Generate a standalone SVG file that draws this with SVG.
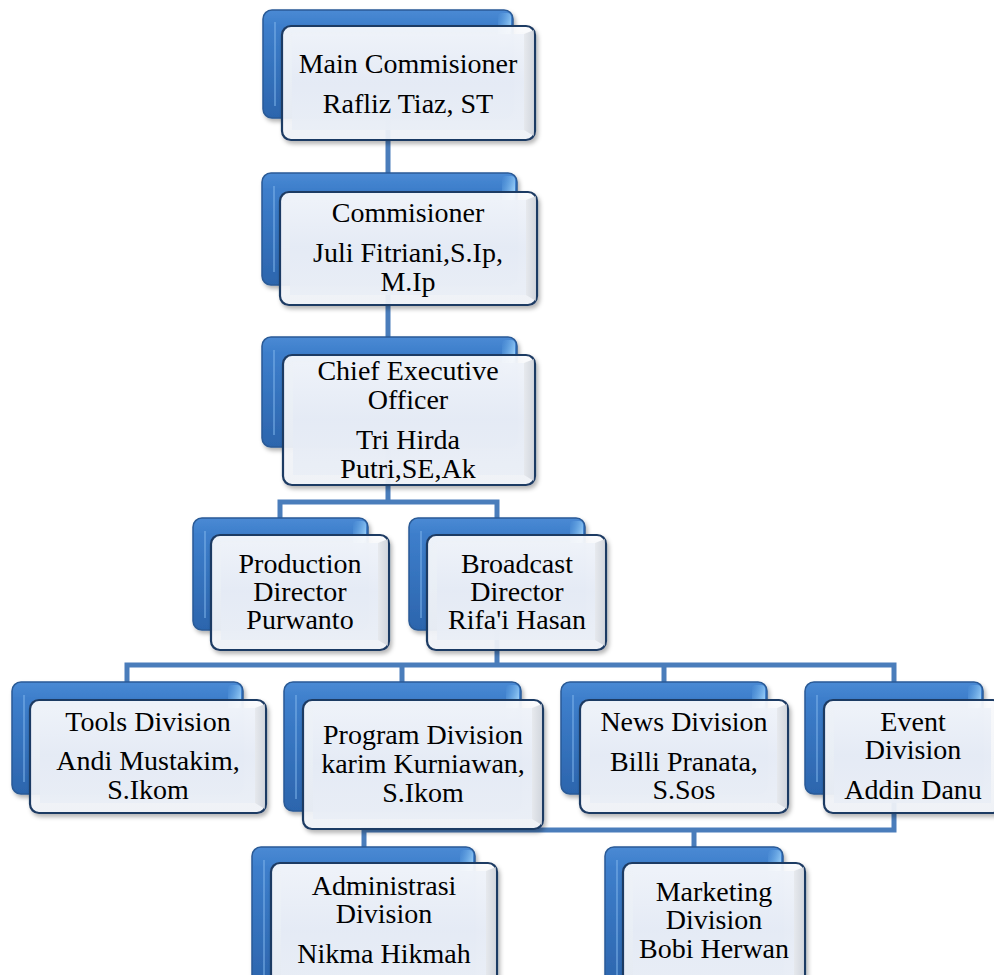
<svg xmlns="http://www.w3.org/2000/svg" width="994" height="975" viewBox="0 0 994 975">
<defs>
<linearGradient id="gBlue" x1="0" y1="0" x2="0" y2="1">
<stop offset="0" stop-color="#4a8ad4"/>
<stop offset="0.15" stop-color="#3d7ecb"/>
<stop offset="1" stop-color="#2c65ad"/>
</linearGradient>
<linearGradient id="gHl" x1="0" y1="0" x2="1" y2="1">
<stop offset="0" stop-color="#6fb4ee" stop-opacity="0"/>
<stop offset="0.7" stop-color="#a9dcff" stop-opacity="0.85"/>
<stop offset="1" stop-color="#6fb4ee" stop-opacity="0"/>
</linearGradient>
<linearGradient id="gFront" x1="0" y1="0" x2="0" y2="1">
<stop offset="0" stop-color="#fbfcfe"/>
<stop offset="1" stop-color="#f1f4f9"/>
</linearGradient>
<linearGradient id="gInner" x1="0" y1="0" x2="0" y2="1">
<stop offset="0" stop-color="#eef2f9"/>
<stop offset="0.5" stop-color="#e4eaf5"/>
<stop offset="1" stop-color="#e9eef6"/>
</linearGradient>
<linearGradient id="gRight" x1="0" y1="0" x2="1" y2="0">
<stop offset="0" stop-color="#e3e6eb"/>
<stop offset="1" stop-color="#c9ced6"/>
</linearGradient>
<filter id="sh" x="-10%" y="-10%" width="125%" height="130%">
<feDropShadow dx="2" dy="3" stdDeviation="2" flood-color="#000" flood-opacity="0.3"/>
</filter>
</defs>
<style>
.back{fill:url(#gBlue);stroke:#2a5a96;stroke-width:1.5;filter:url(#sh)}
.hl{fill:url(#gHl)}
.bev{fill:none;stroke:#7fb3ea;stroke-width:1.5;opacity:0.7}
.front{fill:url(#gFront);fill-opacity:0.92;stroke:#1f3b63;stroke-width:2.2;filter:url(#sh)}
.inner{fill:url(#gInner);fill-opacity:0.88}
.rbev{fill:url(#gRight);opacity:0.8}
.t{font-family:"Liberation Serif","Times New Roman",serif;font-size:28px;fill:#000;text-anchor:middle}
.conn{fill:none;stroke:#4a7dbb;stroke-width:5;stroke-linejoin:miter}
</style>
<rect width="994" height="975" fill="#ffffff"/>

<g id="connectors">
<path class="conn" d="M388,100 V173"/>
<path class="conn" d="M388,270 V337"/>
<path class="conn" d="M388,440 V502 M280,518 V502 H497 V518"/>
<path class="conn" d="M497,600 V665 M127,682 V665 H894 V682 M402,665 V682 M664,665 V682"/>
<path class="conn" d="M894,794 V830 H364 V847 M694,830 V847"/>
</g>

<g id="n-main">
<rect class="back" x="263" y="10" width="250" height="108" rx="9"/>
<path class="bev" d="M275,22 V106"/>
<rect class="hl" x="498" y="13" width="13" height="34" rx="4"/>
<rect class="front" x="282" y="26" width="253" height="114" rx="9"/>
<rect class="inner" x="292" y="34" width="232" height="96"/>
<path class="rbev" d="M524,34 L534,30 V136 L524,130 Z"/>
<text class="t" x="408" y="73">Main Commisioner</text>
<text class="t" x="408" y="113">Rafliz Tiaz, ST</text>
</g>

<g id="n-comm">
<rect class="back" x="262" y="173" width="255" height="112" rx="9"/>
<path class="bev" d="M274,186 V272"/>
<rect class="hl" x="502" y="176" width="13" height="34" rx="4"/>
<rect class="front" x="280" y="192" width="257" height="113" rx="9"/>
<rect class="inner" x="290" y="200" width="236" height="95"/>
<path class="rbev" d="M526,200 L536,196 V301 L526,295 Z"/>
<text class="t" x="408" y="222">Commisioner</text>
<text class="t" x="408" y="262">Juli Fitriani,S.Ip,</text>
<text class="t" x="408" y="291">M.Ip</text>
</g>

<g id="n-ceo">
<rect class="back" x="262" y="337" width="255" height="110" rx="9"/>
<path class="bev" d="M274,350 V435"/>
<rect class="hl" x="502" y="340" width="13" height="34" rx="4"/>
<rect class="front" x="283" y="355" width="252" height="130" rx="9"/>
<rect class="inner" x="293" y="363" width="231" height="112"/>
<path class="rbev" d="M524,363 L534,359 V481 L524,475 Z"/>
<text class="t" x="408" y="380">Chief Executive</text>
<text class="t" x="408" y="409">Officer</text>
<text class="t" x="408" y="449">Tri Hirda</text>
<text class="t" x="408" y="478">Putri,SE,Ak</text>
</g>

<g id="n-prod">
<rect class="back" x="193" y="518" width="175" height="112" rx="9"/>
<path class="bev" d="M205,531 V618"/>
<rect class="hl" x="353" y="521" width="13" height="34" rx="4"/>
<rect class="front" x="211" y="535" width="178" height="115" rx="9"/>
<rect class="inner" x="221" y="543" width="157" height="97"/>
<path class="rbev" d="M378,543 L388,539 V646 L378,640 Z"/>
<text class="t" x="300" y="573">Production</text>
<text class="t" x="300" y="601">Director</text>
<text class="t" x="300" y="629">Purwanto</text>
</g>

<g id="n-broad">
<rect class="back" x="409" y="518" width="176" height="112" rx="9"/>
<path class="bev" d="M421,531 V618"/>
<rect class="hl" x="570" y="521" width="13" height="34" rx="4"/>
<rect class="front" x="427" y="535" width="179" height="115" rx="9"/>
<rect class="inner" x="437" y="543" width="158" height="97"/>
<path class="rbev" d="M595,543 L605,539 V646 L595,640 Z"/>
<text class="t" x="517" y="573">Broadcast</text>
<text class="t" x="517" y="601">Director</text>
<text class="t" x="517" y="629">Rifa'i Hasan</text>
</g>

<g id="n-tools">
<rect class="back" x="12" y="682" width="231" height="112" rx="9"/>
<path class="bev" d="M24,695 V782"/>
<rect class="hl" x="228" y="685" width="13" height="34" rx="4"/>
<rect class="front" x="30" y="700" width="236" height="113" rx="9"/>
<rect class="inner" x="40" y="708" width="215" height="95"/>
<path class="rbev" d="M255,708 L265,704 V809 L255,803 Z"/>
<text class="t" x="148" y="731">Tools Division</text>
<text class="t" x="148" y="770">Andi Mustakim,</text>
<text class="t" x="148" y="799">S.Ikom</text>
</g>

<g id="n-program">
<rect class="back" x="284" y="682" width="237" height="129" rx="9"/>
<path class="bev" d="M296,695 V799"/>
<rect class="hl" x="506" y="685" width="13" height="34" rx="4"/>
<rect class="front" x="303" y="700" width="240" height="129" rx="9"/>
<rect class="inner" x="313" y="708" width="219" height="111"/>
<path class="rbev" d="M532,708 L542,704 V825 L532,819 Z"/>
<text class="t" x="423" y="744">Program Division</text>
<text class="t" x="423" y="773">karim Kurniawan,</text>
<text class="t" x="423" y="802">S.Ikom</text>
</g>

<g id="n-news">
<rect class="back" x="561" y="682" width="206" height="112" rx="9"/>
<path class="bev" d="M573,695 V782"/>
<rect class="hl" x="752" y="685" width="13" height="34" rx="4"/>
<rect class="front" x="580" y="700" width="208" height="113" rx="9"/>
<rect class="inner" x="590" y="708" width="187" height="95"/>
<path class="rbev" d="M777,708 L787,704 V809 L777,803 Z"/>
<text class="t" x="684" y="731">News Division</text>
<text class="t" x="684" y="771">Billi Pranata,</text>
<text class="t" x="684" y="799">S.Sos</text>
</g>

<g id="n-event">
<rect class="back" x="805" y="682" width="178" height="112" rx="9"/>
<path class="bev" d="M817,695 V782"/>
<rect class="hl" x="968" y="685" width="13" height="34" rx="4"/>
<rect class="front" x="824" y="700" width="178" height="113" rx="9"/>
<rect class="inner" x="834" y="708" width="157" height="95"/>
<text class="t" x="913" y="731">Event</text>
<text class="t" x="913" y="759">Division</text>
<text class="t" x="913" y="799">Addin Danu</text>
</g>

<g id="n-admin">
<rect class="back" x="252" y="847" width="223" height="140" rx="9"/>
<path class="bev" d="M264,860 V975"/>
<rect class="hl" x="460" y="850" width="13" height="34" rx="4"/>
<rect class="front" x="271" y="863" width="226" height="140" rx="9"/>
<rect class="inner" x="281" y="871" width="205" height="120"/>
<path class="rbev" d="M486,871 L496,867 V990 L486,990 Z"/>
<text class="t" x="384" y="895">Administrasi</text>
<text class="t" x="384" y="923">Division</text>
<text class="t" x="384" y="963">Nikma Hikmah</text>
</g>

<g id="n-marketing">
<rect class="back" x="605" y="847" width="178" height="140" rx="9"/>
<path class="bev" d="M617,860 V975"/>
<rect class="hl" x="768" y="850" width="13" height="34" rx="4"/>
<rect class="front" x="623" y="863" width="182" height="140" rx="9"/>
<rect class="inner" x="633" y="871" width="161" height="120"/>
<path class="rbev" d="M794,871 L804,867 V990 L794,990 Z"/>
<text class="t" x="714" y="901">Marketing</text>
<text class="t" x="714" y="929">Division</text>
<text class="t" x="714" y="958">Bobi Herwan</text>
</g>
</svg>
